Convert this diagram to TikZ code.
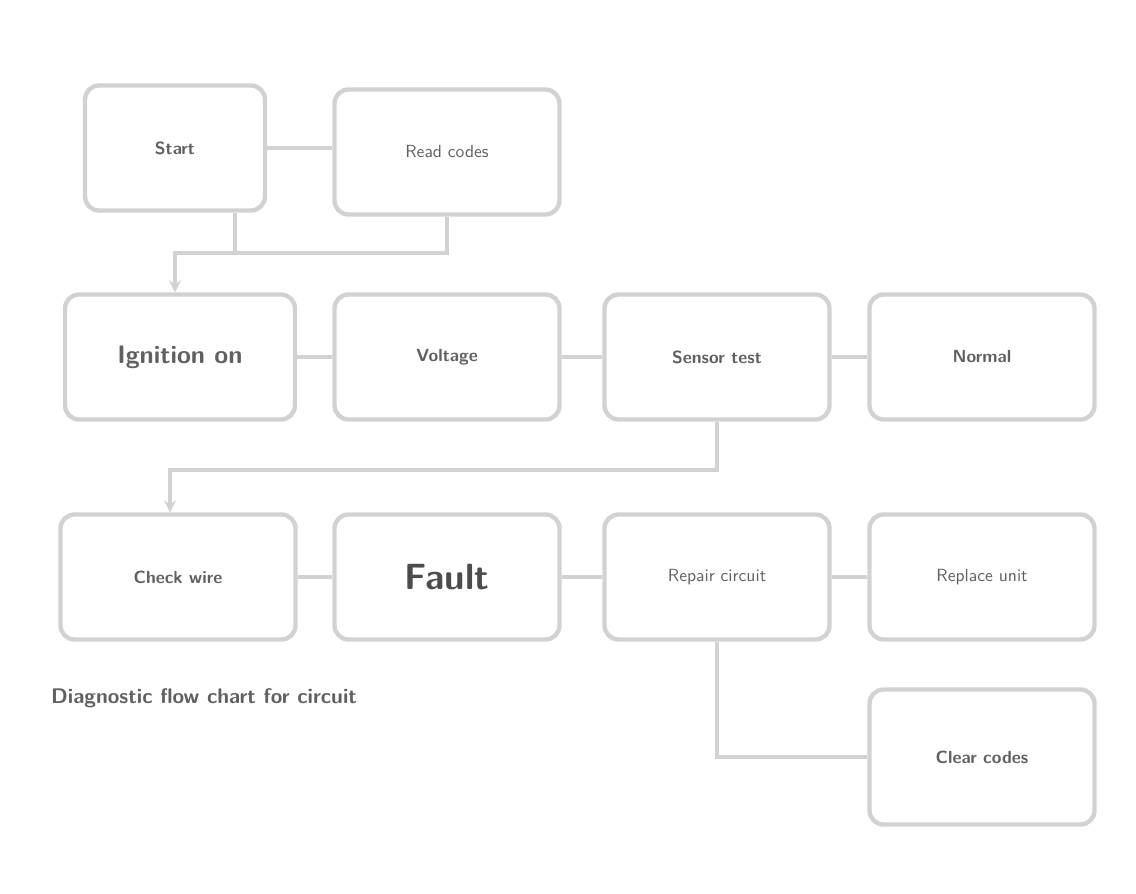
\documentclass[tikz,border=0pt]{standalone}
\tikzset{
  stepbox/.style={draw=gray!35, line width=2.5pt, rounded corners=8pt,
    minimum height=2.5cm, text=gray!75!black, font=\sffamily\bfseries, align=center},
  link/.style={draw=gray!35, line width=2pt},
  linkarrow/.style={link, ->, >=stealth}
}
\begin{document}
\begin{tikzpicture}
            \useasboundingbox (0,0) rectangle (22.72,-17.88);
            % first row
            \node[stepbox, minimum width=3.6cm] (start) at (3.5,-2.96) {Start};
            \node[stepbox, minimum width=4.5cm] (codes) at (8.94,-3.04) {\mdseries Read codes};
            \draw[link] (start.east) -- (start.east -| codes.west);
            % second row
            \node[stepbox, minimum width=4.6cm] (ign) at (3.6,-7.14) {\Large Ignition on};
            \node[stepbox, minimum width=4.5cm] (volt) at (8.94,-7.14) {Voltage};
            \node[stepbox, minimum width=4.5cm] (sensor) at (14.34,-7.14) {Sensor test};
            \node[stepbox, minimum width=4.5cm] (okA) at (19.64,-7.14) {Normal};
            \draw[link] (ign) -- (volt);
            \draw[link] (volt) -- (sensor);
            \draw[link] (sensor) -- (okA);
            \draw[link] (start.south -| 4.7,0) |- (8.8,-5.06);
            \draw[linkarrow] (codes.south) |- (3.5,-5.06) -- (ign.north -| 3.5,0);
            % third row
            \node[stepbox, minimum width=4.7cm] (wire) at (3.56,-11.54) {Check wire};
            \node[stepbox, minimum width=4.5cm, font=\sffamily\bfseries\huge, text=gray!60!black] (fault) at (8.94,-11.54) {Fault};
            \node[stepbox, minimum width=4.5cm] (repair) at (14.34,-11.54) {\mdseries Repair circuit};
            \node[stepbox, minimum width=4.5cm] (okB) at (19.64,-11.54) {\mdseries Replace unit};
            \draw[link] (wire) -- (fault);
            \draw[link] (fault) -- (repair);
            \draw[link] (repair) -- (okB);
            \draw[linkarrow] (sensor.south) |- (3.4,-9.4) -- (wire.north -| 3.4,0);
            \node[anchor=west, text=gray!75!black, font=\sffamily\bfseries\large] (note) at (0.9,-13.96) {Diagnostic flow chart for circuit};
            % fourth row
            \node[stepbox, minimum width=4.5cm, minimum height=2.7cm] (clear) at (19.64,-15.14) {Clear codes};
            \draw[link] (repair.south) |- (clear.west);
\end{tikzpicture}
\end{document}
